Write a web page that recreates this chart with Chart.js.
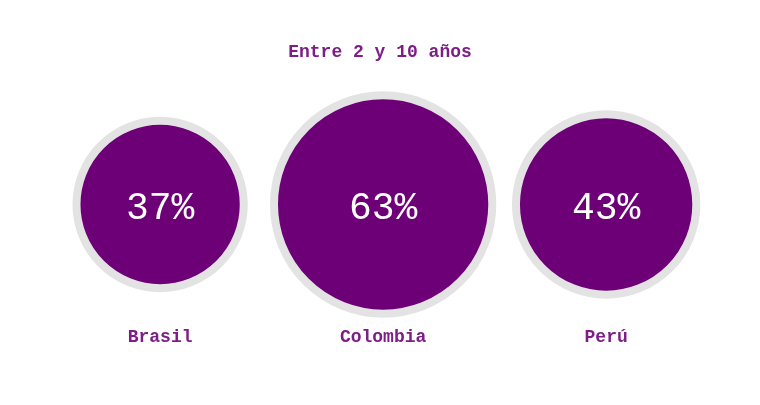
<!DOCTYPE html>
<html>
<head>
<meta charset="utf-8">
<script src="https://cdn.jsdelivr.net/npm/chart.js@4/dist/chart.umd.min.js"></script>
<style>
  html, body { margin: 0; padding: 0; background: #ffffff; }
  #wrap { width: 760px; height: 405px; position: relative; }
</style>
</head>
<body>
<div id="wrap"><canvas id="chart"></canvas></div>
<script>
// Porcentajes por país
const countries = ['Brasil', 'Colombia', 'Perú'];
const percentages = [37, 63, 43];
const chartTitle = 'Entre 2 y 10 años';

const purple = '#6d0077';
const textPurple = '#7e1d88';
const typewriter = "'Liberation Mono', 'DejaVu Sans Mono', monospace";

// bubble area follows the value
const radiusScale = 13.75;

const bubbles = countries.map((c, i) => ({
  x: i,
  y: 1,
  r: radiusScale * Math.sqrt(percentages[i])
}));

const percentLabels = {
  id: 'percentLabels',
  afterDatasetsDraw(chart) {
    const ctx = chart.ctx;
    const meta = chart.getDatasetMeta(0);
    ctx.save();
    ctx.fillStyle = '#ffffff';
    ctx.font = '38px ' + typewriter;
    ctx.textAlign = 'center';
    ctx.textBaseline = 'middle';
    meta.data.forEach((pt, i) => {
      ctx.fillText(percentages[i] + '%', pt.x, pt.y + 4);
    });
    ctx.restore();
  }
};

const ctx = document.getElementById('chart').getContext('2d');
const chart = new Chart(ctx, {
  type: 'bubble',
  data: {
    datasets: [{
      data: bubbles,
      backgroundColor: purple,
      borderColor: '#e3e3e3',
      borderWidth: 8,
      hoverBorderWidth: 8,
      clip: false
    }]
  },
  options: {
    responsive: true,
    maintainAspectRatio: false,
    animation: false,
    events: [],
    layout: {
      autoPadding: false,
      padding: { left: 0, right: 0, top: 42, bottom: 30 }
    },
    plugins: {
      legend: { display: false },
      tooltip: { enabled: false },
      title: {
        display: true,
        text: chartTitle,
        color: textPurple,
        font: { family: typewriter, size: 18, weight: 'bold' },
        padding: { top: 0, bottom: 46 }
      }
    },
    scales: {
      x: {
        type: 'linear',
        min: -0.718,
        max: 2.69,
        grid: { display: false, drawTicks: false },
        border: { display: false },
        afterBuildTicks: (scale) => {
          scale.ticks = countries.map((c, i) => ({ value: i }));
        },
        ticks: {
          color: textPurple,
          padding: 27,
          font: { family: typewriter, size: 18, weight: 'bold' },
          callback: (value) => countries[value]
        }
      },
      y: {
        display: false,
        min: 0,
        max: 2
      }
    }
  },
  plugins: [percentLabels]
});
</script>
</body>
</html>
